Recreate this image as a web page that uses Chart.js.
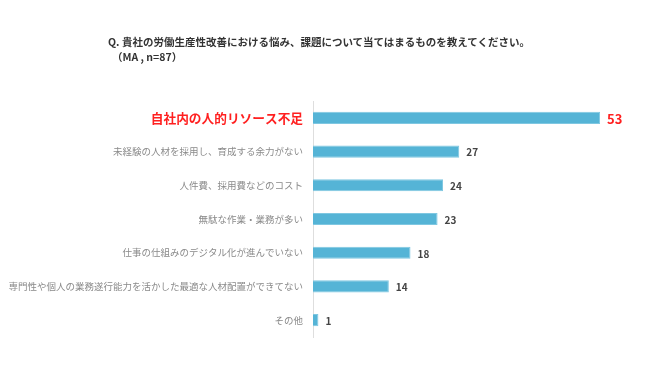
<!DOCTYPE html>
<html>
<head>
<meta charset="utf-8">
<script src="https://cdn.jsdelivr.net/npm/chart.js@4"></script>
<style>
  body { margin: 0; background: #fff; font-family: "Noto Sans CJK JP", sans-serif; }
  #wrap { position: relative; width: 650px; height: 380px; }
  #title { position: absolute; left: 108px; top: 34px; font-size: 10.5px; font-weight: bold; color: #333; line-height: 15px; }
  #title .sub { padding-left: 4px; }
</style>
</head>
<body>
<div id="wrap">
  <div id="title">
    <div>Q. 貴社の労働生産性改善における悩み、課題について当てはまるものを教えてください。</div>
    <div class="sub">（MA , n=87）</div>
  </div>
  <canvas id="chart" width="650" height="380"></canvas>
</div>
<script>
// categories and counts, top to bottom
var labels = [
    "自社内の人的リソース不足",
    "未経験の人材を採用し、育成する余力がない",
    "人件費、採用費などのコスト",
    "無駄な作業・業務が多い",
    "仕事の仕組みのデジタル化が進んでいない",
    "専門性や個人の業務遂行能力を活かした最適な人材配置ができてない",
    "その他"
];
var counts = [53, 27, 24, 23, 18, 14, 1];

// draw the number after each bar
var valueLabels = {
    id: "valueLabels",
    afterDatasetsDraw(chart) {
        var ctx = chart.ctx;
        var meta = chart.getDatasetMeta(0);
        ctx.save();
        ctx.textBaseline = "middle";
        ctx.textAlign = "left";
        meta.data.forEach((bar, i) => {
            if (i === 0) {
                ctx.fillStyle = "#ff2020";
                ctx.font = "bold 13px 'Noto Sans CJK JP'";
            } else {
                ctx.fillStyle = "#444";
                ctx.font = "bold 10px 'Noto Sans CJK JP'";
            }
            ctx.fillText(counts[i], bar.x + 7, bar.y + 1);
        });
        ctx.restore();
    }
};

var ctx = document.getElementById("chart").getContext("2d");
new Chart(ctx, {
    type: "bar",
    data: {
        labels: labels,
        datasets: [{
            data: counts,
            backgroundColor: "#55b4d6",
            borderColor: "#7fc7e1",
            borderWidth: 1,
            borderSkipped: "left",
            barPercentage: 0.36,
            categoryPercentage: 1
        }]
    },
    options: {
        indexAxis: "y",
        responsive: false,
        animation: false,
        layout: { padding: { left: 0, right: 12, top: 101, bottom: 43 } },
        plugins: {
            legend: { display: false },
            tooltip: { enabled: false }
        },
        scales: {
            x: { display: false, min: 0, max: 60 },
            y: {
                afterFit(scale) { scale.width = 313; },
                grid: { display: false, drawTicks: false },
                border: { display: true, color: "#dedede", width: 1 },
                ticks: {
                    padding: 10,
                    color: (c) => c.index === 0 ? "#ff2020" : "#8a8a8a",
                    font: (c) => c.index === 0
                        ? { family: "'Noto Sans CJK JP'", size: 12.7, weight: "bold" }
                        : { family: "'Noto Sans CJK JP'", size: 9.5 }
                }
            }
        }
    },
    plugins: [valueLabels]
});
</script>
</body>
</html>
